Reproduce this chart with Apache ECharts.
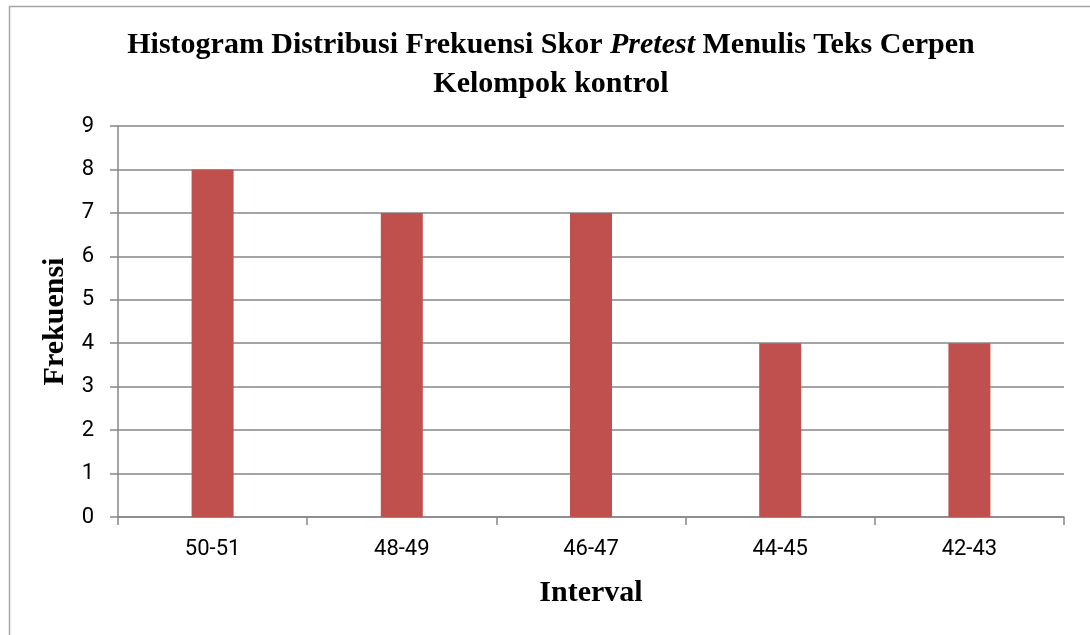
<!DOCTYPE html>
<html>
<head>
<meta charset="utf-8">
<script src="https://cdn.jsdelivr.net/npm/echarts@6/dist/echarts.min.js"></script>
<style>html,body{margin:0;padding:0;background:#fff;}#c{width:1090px;height:635px;}</style>
</head>
<body>
<div id="c"></div>
<script>
const categories = ['50-51', '48-49', '46-47', '44-45', '42-43'];
const frekuensi = [8, 7, 7, 4, 4];
const yTicks = [0, 1, 2, 3, 4, 5, 6, 7, 8, 9];

const chart = echarts.init(document.getElementById('c'));
const serif = '"Liberation Serif", "Times New Roman", serif';
const sans = 'Roboto, "Liberation Sans", Arial, sans-serif';
chart.setOption({
  animation: false,
  backgroundColor: '#fff',
  graphic: [{
    type: 'rect', shape: { x: 9.5, y: 6.5, width: 1200, height: 800 },
    style: { fill: 'none', stroke: '#a6a6a6', lineWidth: 1.5 }, silent: true, z: -1
  }],
  title: {
    left: 546, textAlign: 'center', top: 21,
    text: '{b|Histogram Distribusi Frekuensi Skor }{i|Pretest}{b| Menulis Teks Cerpen}\n{b|Kelompok kontrol}',
    textStyle: {
      rich: {
        b: { fontFamily: serif, fontWeight: 'bold', fontSize: 30, color: '#000', lineHeight: 39 },
        i: { fontFamily: serif, fontWeight: 'bold', fontStyle: 'italic', fontSize: 30, color: '#000', lineHeight: 39 }
      }
    }
  },
  grid: { left: 118, right: 26, top: 126, bottom: 118, containLabel: false },
  xAxis: {
    type: 'category', data: categories,
    name: 'Interval', nameLocation: 'middle', nameGap: 61,
    nameTextStyle: { fontFamily: serif, fontWeight: 'bold', fontSize: 30, color: '#000' },
    axisLine: { lineStyle: { color: '#868686', width: 1.5 } },
    axisTick: { show: true, length: 8, lineStyle: { color: '#868686', width: 1.5 } },
    axisLabel: { fontFamily: sans, fontSize: 22, color: '#000', margin: 21 }
  },
  yAxis: {
    type: 'value', min: yTicks[0], max: yTicks[yTicks.length - 1], interval: 1,
    name: 'Frekuensi', nameLocation: 'middle', nameGap: 46, nameRotate: 90,
    nameTextStyle: { fontFamily: serif, fontWeight: 'bold', fontSize: 30, color: '#000' },
    axisLine: { show: true, lineStyle: { color: '#868686', width: 1.5 } },
    axisTick: { show: true, length: 8, lineStyle: { color: '#868686', width: 1.5 } },
    splitLine: { lineStyle: { color: '#868686', width: 1.5 } },
    axisLabel: { fontFamily: sans, fontSize: 22, color: '#000', margin: 24 }
  },
  series: [{
    type: 'bar', data: frekuensi, barWidth: 42,
    itemStyle: { color: '#C0504D' }
  }]
});
</script>
</body>
</html>
